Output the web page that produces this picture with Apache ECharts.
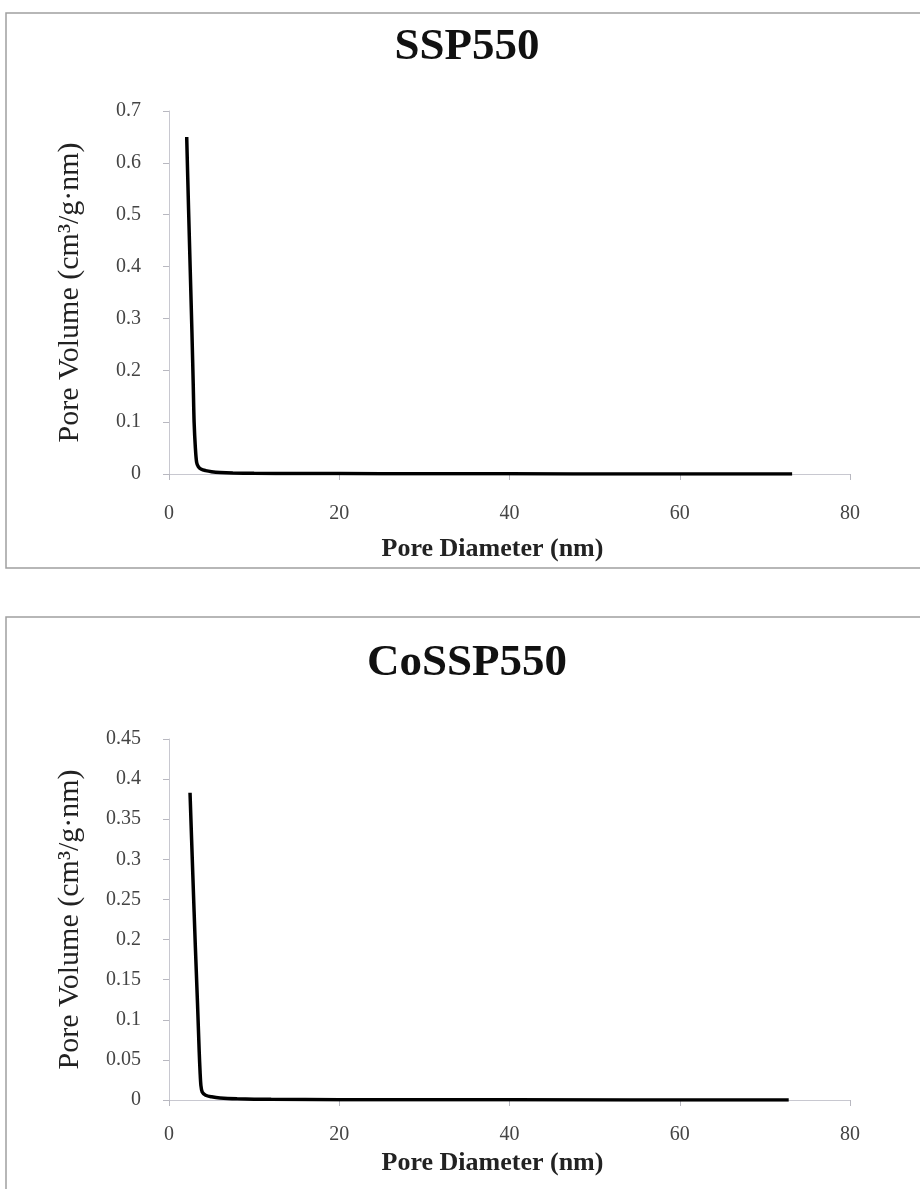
<!DOCTYPE html>
<html><head><meta charset="utf-8">
<script src="https://cdn.jsdelivr.net/npm/echarts@6/dist/echarts.min.js"></script>
<style>html,body{margin:0;padding:0;background:#fff}#c{width:920px;height:1189px}</style>
</head><body><div id="c"></div>
<script>
const titles = ['SSP550', 'CoSSP550'];
const xTicks = [0, 20, 40, 60, 80];
const yMax = [0.7, 0.45];
const yStep = [0.1, 0.05];
const ssp550 = [[2.08,0.65],[2.3,0.51],[2.5,0.39],[2.7,0.27],[2.85,0.17],[2.95,0.1],[3.1,0.05],[3.25,0.022],[3.45,0.014],[3.8,0.009],[4.3,0.0065],[5,0.0045],[6,0.003],[7.5,0.002],[10,0.0014],[15,0.001],[25,0.0006],[40,0.0003],[55,0.0002],[73.2,0.0001]];
const cossp550 = [[2.47,0.383],[2.8,0.28],[3.1,0.19],[3.35,0.12],[3.55,0.06],[3.65,0.035],[3.75,0.018],[3.9,0.01],[4.3,0.006],[5,0.004],[6,0.0025],[8,0.0015],[12,0.0008],[20,0.0004],[40,0.0002],[72.8,0.0001]];
const seriesData = [ssp550, cossp550];

const font = '"Liberation Serif", "DejaVu Serif", serif';
const grids = [{left:169, right:70, top:111, height:363}, {left:169, right:70, top:739, height:361}];
const titleTops = [20, 636];
const xLabelMargin = [30, 25];
const xNameGap = [62, 50];
const opt = {
  animation:false,
  backgroundColor:'#fff',
  graphic:[
    {type:'rect', shape:{x:6, y:13, width:920, height:555}, style:{fill:'none', stroke:'#a0a0a0', lineWidth:1.5}},
    {type:'rect', shape:{x:6, y:617, width:920, height:600}, style:{fill:'none', stroke:'#a0a0a0', lineWidth:1.5}}
  ],
  title: titles.map((t,i)=>({text:t, left:462, textAlign:'center', top:titleTops[i], textStyle:{fontFamily:font, fontWeight:'bold', fontSize:45, color:'#111'}})),
  grid: grids,
  xAxis: grids.map((g,i)=>({type:'value', gridIndex:i, min:0, max:80, interval:20,
    name:'Pore Diameter (nm)', nameLocation:'middle', nameGap:xNameGap[i],
    nameTextStyle:{fontFamily:font, fontSize:26, color:'#222', fontWeight:'bold', padding:[0,34,0,0]},
    axisLine:{lineStyle:{color:'#c8c8d0', width:1}},
    axisTick:{show:true, length:6, lineStyle:{color:'#b8b8c0'}},
    axisLabel:{fontFamily:font, fontSize:20, color:'#444', margin:xLabelMargin[i]},
    splitLine:{show:false}})),
  yAxis: grids.map((g,i)=>({type:'value', gridIndex:i, min:0, max:yMax[i], interval:yStep[i],
    name:'Pore Volume (cm³/g·nm)', nameLocation:'middle', nameGap:84, nameRotate:90,
    nameTextStyle:{fontFamily:font, fontSize:30, color:'#222'},
    axisLine:{show:true, lineStyle:{color:'#c8c8d0', width:1}},
    axisTick:{show:true, length:6, lineStyle:{color:'#b8b8c0'}},
    axisLabel:{fontFamily:font, fontSize:20, color:'#444', margin:28},
    splitLine:{show:false}})),
  series: seriesData.map((d,i)=>({type:'line', xAxisIndex:i, yAxisIndex:i, data:d, showSymbol:false, smooth:0.3,
    lineStyle:{color:'#000', width:3.5}}))
};
echarts.init(document.getElementById('c')).setOption(opt);
</script></body></html>
